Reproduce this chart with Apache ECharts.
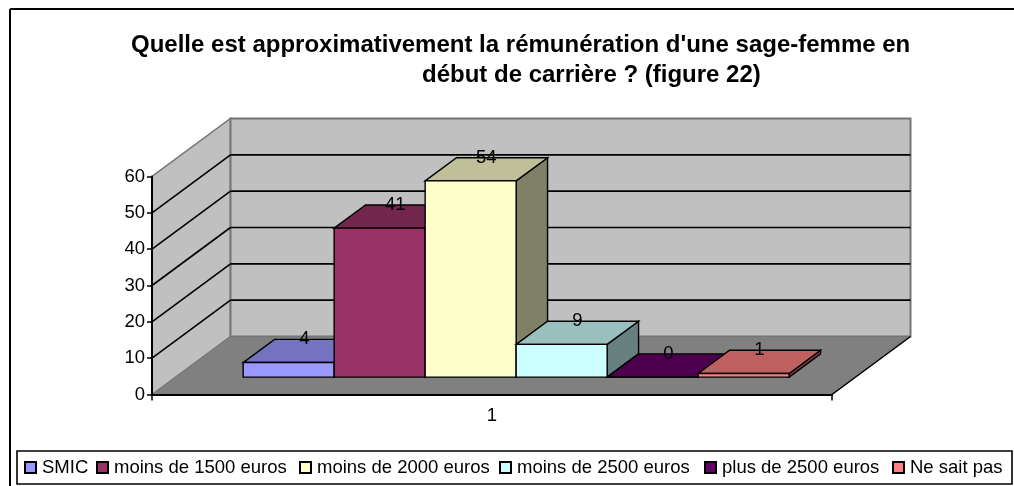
<!DOCTYPE html>
<html><head><meta charset="utf-8">
<style>html,body{margin:0;padding:0;background:#fff}#c{width:1014px;height:486px}</style>
<script src="https://cdn.jsdelivr.net/npm/echarts@6/dist/echarts.min.js"></script>
</head><body><div id="c"></div>
<script>
const categories = ['1'];
const seriesNames = ['SMIC','moins de 1500 euros','moins de 2000 euros','moins de 2500 euros','plus de 2500 euros','Ne sait pas'];
const seriesValues = [4,41,54,9,0,1];
const seriesColors = ['#9999FF','#993366','#FFFFCC','#CCFFFF','#660066','#FF8080'];
const topColors = ['#7373BF','#73264D','#BFBF99','#99BFBF','#4D004D','#BF6060'];
const sideColors = ['#666680','#4D1A33','#808066','#668080','#330033','#804040'];
const gridTicks = [10,20,30,40,50];
const titleLines = ["Quelle est approximativement la rémunération d'une sage-femme en","début de carrière ? (figure 22)"];

const DEPTH_X = 78.5, DEPTH_Y = -58;        // oblique projection of the full depth
const BAR_FRONT = 0.3, BAR_BACK = 0.7;      // bars occupy this slice of the depth
const BAR_SHARE = 91 / 680;                 // one bar as a share of the category band
const BAR_NUDGE = 0.6;
const FONT = '"Liberation Sans", Arial, sans-serif';
const TXT = 18.5;
const LEGEND_LEFTS = [24,96,299,499,704,892];

function pr(p, d){ return [p[0] + DEPTH_X*d, p[1] + DEPTH_Y*d]; }
function poly(points, fill, stroke, lw){
  return {type:'polygon', shape:{points}, style:{fill, stroke: stroke||'none', lineWidth: lw===undefined?1:lw}};
}
function line(a,b,stroke,lw){
  return {type:'line', shape:{x1:a[0],y1:a[1],x2:b[0],y2:b[1]}, style:{stroke,lineWidth:lw}};
}

function renderWalls(params, api){
  const c0 = api.coord([0,0]), c60 = api.coord([0,60]);
  const band = api.size([1,0])[0];
  const L = c0[0]-band/2, R = c0[0]+band/2, B = c0[1], T = c60[1];
  const wallGray = '#C0C0C0', floorGray = '#808080', edge = '#757575';
  const kids = [
    poly([[L,B],pr([L,B],1),pr([L,T],1),[L,T]], wallGray, edge, 1.5),
    poly([pr([L,B],1),pr([R,B],1),pr([R,T],1),pr([L,T],1)], wallGray, edge, 2),
    poly([[L,B],[R,B],pr([R,B],1),pr([L,B],1)], floorGray, edge, 1),
    line([R,B],pr([R,B],1),'#000',1.5)
  ];
  gridTicks.forEach(t=>{
    const y = api.coord([0,t])[1];
    kids.push(line([L,y],pr([L,y],1),'#000',1.6));
    kids.push(line(pr([L,y],1),pr([R,y],1),'#000',1.6));
  });
  return {type:'group', children:kids};
}

function makeBar(i){
  return function(params, api){
    const val = api.value(1);
    const c = api.coord([0,val]), c0 = api.coord([0,0]);
    const band = api.size([1,0])[0];
    const w = band*BAR_SHARE;
    const start = c0[0] - w*seriesValues.length/2 + DEPTH_X*BAR_FRONT + BAR_NUDGE;
    const x0 = start + w*i, x1 = x0 + w;
    const yb = c0[1] + DEPTH_Y*BAR_FRONT, yt = c[1] + DEPTH_Y*BAR_FRONT;
    const d = BAR_BACK-BAR_FRONT;
    const fl=[x0,yb], fr=[x1,yb], tl=[x0,yt], tr=[x1,yt];
    const kids = [
      poly([fr,pr(fr,d),pr(tr,d),tr], sideColors[i], '#000', 1.4),
      poly([tl,tr,pr(tr,d),pr(tl,d)], topColors[i], '#000', 1.4),
      poly([fl,fr,tr,tl], seriesColors[i], '#000', 1.4),
      {type:'text', z2:50, style:{text:String(val), x:(x0+x1)/2+DEPTH_X*d/2, y:yt+DEPTH_Y*d, align:'center', verticalAlign:'middle',
        fill:'#000', font:TXT+'px '+FONT}}
    ];
    return {type:'group', children:kids};
  };
}

const series = [{
  type:'custom', name:'walls', silent:true, clip:false, z:1,
  data:[[0,0]], encode:{x:0,y:1}, renderItem:renderWalls
}];
seriesNames.forEach((n,i)=>{
  series.push({type:'custom', name:n, clip:false, z:2+i, data:[[0,seriesValues[i]]], encode:{x:0,y:1},
    itemStyle:{color:seriesColors[i], borderColor:'#000', borderWidth:1.2}, renderItem:makeBar(i)});
});

const titleStyle = {fontFamily:FONT,fontWeight:'bold',fontSize:24,color:'#000'};
const chart = echarts.init(document.getElementById('c'),null,{renderer:'canvas'});
chart.setOption({
  animation:false,
  backgroundColor:'#fff',
  title:[
    {text:titleLines[0], left:131, top:33, padding:0, textStyle:titleStyle},
    {text:titleLines[1], left:422, top:63, padding:0, textStyle:titleStyle}
  ],
  grid:{left:152, right:182, top:176.5, height:218, containLabel:false},
  xAxis:{type:'category', data:categories, boundaryGap:true,
    axisLine:{show:true,lineStyle:{color:'#000',width:2}},
    axisTick:{show:true,alignWithLabel:false,length:6,lineStyle:{color:'#000',width:1.5}},
    axisLabel:{color:'#000',fontFamily:FONT,fontSize:TXT,margin:12},
    splitLine:{show:false}, z:10},
  yAxis:{type:'value', min:0, max:60, interval:10,
    axisLine:{show:true,lineStyle:{color:'#000',width:2}},
    axisTick:{show:true,length:5,lineStyle:{color:'#000',width:1.5}},
    axisLabel:{color:'#000',fontFamily:FONT,fontSize:TXT,margin:7},
    splitLine:{show:false}, z:10},
  legend:seriesNames.map((n,i)=>({data:[n], left:LEGEND_LEFTS[i], top:458, padding:0,
    itemWidth:11, itemHeight:11, icon:'rect',
    textStyle:{color:'#000',fontFamily:FONT,fontSize:TXT,padding:[0,0,5,1]}})),
  graphic:[
    {type:'line', silent:true, shape:{x1:10,y1:9,x2:1014,y2:9}, style:{stroke:'#000',lineWidth:2}},
    {type:'line', silent:true, shape:{x1:10,y1:9,x2:10,y2:486}, style:{stroke:'#000',lineWidth:2}},
    {type:'rect', silent:true, shape:{x:17,y:451,width:995,height:33}, style:{fill:'none',stroke:'#000',lineWidth:1.6}}
  ],
  series
});
</script></body></html>
